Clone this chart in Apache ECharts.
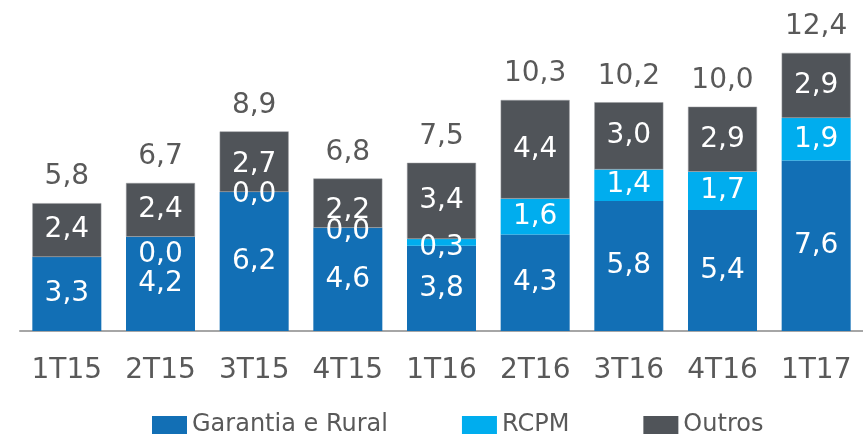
<!DOCTYPE html>
<html>
<head>
<meta charset="utf-8">
<script src="https://cdn.jsdelivr.net/npm/echarts@6/dist/echarts.min.js"></script>
<style>
  html, body { margin: 0; padding: 0; background: #fff; }
  #chart { width: 863px; height: 436px; }
</style>
</head>
<body>
<div id="chart"></div>
<script>
const categories = ["1T15", "2T15", "3T15", "4T15", "1T16", "2T16", "3T16", "4T16", "1T17"];
const garantia = [3.3, 4.2, 6.2, 4.6, 3.8, 4.3, 5.8, 5.4, 7.6];
const rcpm = [null, 0, 0, 0, 0.3, 1.6, 1.4, 1.7, 1.9];
const outros = [2.4, 2.4, 2.7, 2.2, 3.4, 4.4, 3.0, 2.9, 2.9];
const totals = [5.8, 6.7, 8.9, 6.8, 7.5, 10.3, 10.2, 10.0, 12.4];

const FONT = "'DejaVu Sans', Verdana, sans-serif";

function fmt(v) {
    return v.toFixed(1).replace(".", ",");
}

// small nudges for labels that overlap in the original
const rcpmLabelShift = {1: 18, 2: 3, 3: 4, 4: 5};
const outrosLabelShift = {2: 3, 3: 8};

function withShift(values, shifts) {
    return values.map((v, i) => {
        if (shifts[i] === undefined || v === null) return v;
        return {value: v, label: {offset: [0, shifts[i]]}};
    });
}

const insideLabel = {
    show: true,
    position: "inside",
    color: "#ffffff",
    fontFamily: FONT,
    fontSize: 28,
    formatter: (p) => fmt(p.value),
};

const chart = echarts.init(document.getElementById("chart"));
chart.setOption({
    animation: false,
    grid: {left: 20, right: -7, top: 17, bottom: 105},
    legend: {
        data: ["Garantia e Rural", "RCPM", "Outros"],
        bottom: -6,
        left: 147,
        itemWidth: 35,
        itemHeight: 18,
        itemGap: 74,
        icon: "rect",
        itemStyle: {borderWidth: 0},
        textStyle: {color: "#595959", fontFamily: FONT, fontSize: 24},
    },
    xAxis: {
        type: "category",
        data: categories,
        axisLine: {lineStyle: {color: "#a6a6a6", width: 2}},
        axisTick: {show: false},
        axisLabel: {color: "#595959", fontFamily: FONT, fontSize: 28, margin: 26, interval: 0},
    },
    yAxis: {
        type: "value",
        min: 0,
        max: 14,
        show: false,
        splitLine: {show: false},
    },
    series: [
        {
            name: "Garantia e Rural",
            type: "bar",
            stack: "total",
            barWidth: 69,
            itemStyle: {color: "#126fb5"},
            label: insideLabel,
            data: garantia,
        },
        {
            name: "RCPM",
            type: "bar",
            stack: "total",
            itemStyle: {color: "#00adee"},
            label: insideLabel,
            data: withShift(rcpm, rcpmLabelShift),
        },
        {
            name: "Outros",
            type: "bar",
            stack: "total",
            itemStyle: {color: "#505459", borderColor: "#9a9da1", borderWidth: 0.5},
            label: insideLabel,
            data: withShift(outros, outrosLabelShift),
        },
        {
            name: "Total",
            type: "bar",
            stack: "total",
            itemStyle: {color: "transparent"},
            label: {
                show: true,
                position: "top",
                distance: 12,
                color: "#595959",
                fontFamily: FONT,
                fontSize: 28,
                formatter: (p) => fmt(totals[p.dataIndex]),
            },
            data: totals.map(() => 0),
        },
    ],
});
</script>
</body>
</html>
